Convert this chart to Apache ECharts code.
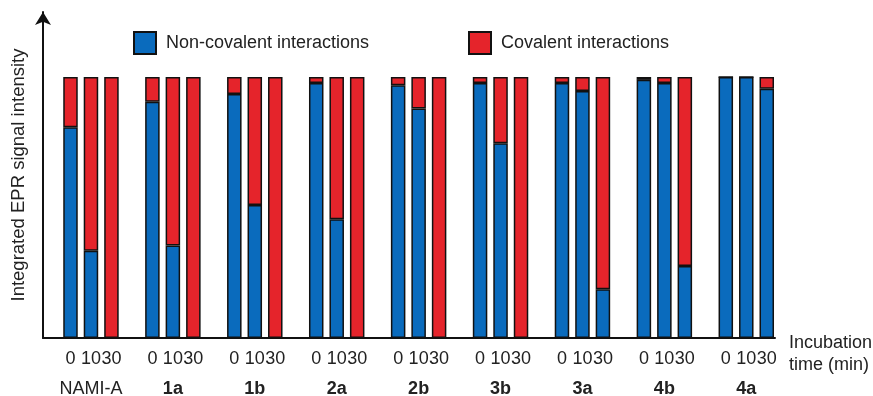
<!DOCTYPE html>
<html>
<head>
<meta charset="utf-8">
<script src="https://cdn.jsdelivr.net/npm/echarts@6/dist/echarts.min.js"></script>
<style>html,body{margin:0;padding:0;background:#fff;}#c{width:873px;height:396px;}</style>
</head>
<body>
<div id="c"></div>
<script>
var groups = ['NAMI-A', '1a', '1b', '2a', '2b', '3b', '3a', '4b', '4a'];
var timeLabels = ['0', '10', '30'];
// Non-covalent share (%) for 0, 10, 30 min per group
var nonCovalent = [
  [80.7, 33.4, 0],
  [90.5, 35.4, 0],
  [93.5, 51.0, 0],
  [97.7, 45.5, 0],
  [96.8, 87.9, 0],
  [97.7, 74.6, 0],
  [97.7, 94.6, 18.7],
  [98.9, 97.7, 27.6],
  [100, 100, 95.5]
];
// Covalent share (%) for 0, 10, 30 min per group
var covalent = [
  [19.3, 66.6, 100],
  [9.5, 64.6, 100],
  [6.5, 49.0, 100],
  [2.3, 54.5, 100],
  [3.2, 12.1, 100],
  [2.3, 25.4, 100],
  [2.3, 5.4, 81.3],
  [1.1, 2.3, 72.4],
  [0, 0, 4.5]
];

// Build slots: 3 bars per group + 1 gap slot between groups
var slots = [], slotTime = [], slotGroup = [], ncData = [], cData = [];
groups.forEach(function (g, gi) {
  for (var t = 0; t < 4; t++) {
    if (gi === groups.length - 1 && t === 3) break;
    slots.push('s' + slots.length);
    if (t < 3) {
      slotTime.push(timeLabels[t]);
      slotGroup.push(t === 1 ? g : '');
      ncData.push(nonCovalent[gi][t]);
      cData.push(covalent[gi][t]);
    } else {
      slotTime.push('');
      slotGroup.push('');
      ncData.push(null);
      cData.push(null);
    }
  }
});

var FONT = '"Liberation Sans", Arial, sans-serif';
var TXT = '#222';
var BLUE = '#0a6bbd';
var RED = '#e5242b';

var chart = echarts.init(document.getElementById('c'));
chart.setOption({
  animation: false,
  textStyle: { fontFamily: FONT },
  grid: [
    { left: 43, right: 98, top: 12, bottom: 58, containLabel: false, outerBoundsMode: 'none' },
    { left: 60.25, right: 96, top: 77, bottom: 58, containLabel: false, outerBoundsMode: 'none' }
  ],
  legend: [
    {
      left: 133, top: 31, padding: 0, itemWidth: 22, itemHeight: 22, icon: 'rect',
      data: ['Non-covalent interactions'],
      textStyle: { fontSize: 18, color: TXT, fontFamily: FONT, padding: [0, 0, 0, 5] }
    },
    {
      left: 468, top: 31, padding: 0, itemWidth: 22, itemHeight: 22, icon: 'rect',
      data: ['Covalent interactions'],
      textStyle: { fontSize: 18, color: TXT, fontFamily: FONT, padding: [0, 0, 0, 5] }
    }
  ],
  xAxis: [
    {
      gridIndex: 0, type: 'value', min: 0, max: 1,
      axisLine: { show: true, lineStyle: { color: '#111', width: 2 } },
      axisTick: { show: false }, axisLabel: { show: false }, splitLine: { show: false },
      name: 'Incubation\ntime (min)', nameLocation: 'end', nameGap: 0,
      nameTextStyle: { fontSize: 18, color: TXT, fontFamily: FONT, align: 'left', verticalAlign: 'top', lineHeight: 22, padding: [-6, 0, 0, 14] }
    },
    {
      gridIndex: 1, type: 'category', data: slots,
      axisLine: { show: false }, axisTick: { show: false }, splitLine: { show: false },
      axisLabel: {
        interval: 0, margin: 12, fontSize: 18, color: TXT, fontFamily: FONT,
        formatter: function (v, i) { return slotTime[i]; }
      }
    },
    {
      gridIndex: 1, type: 'category', data: slots, position: 'bottom', offset: 30,
      axisLine: { show: false }, axisTick: { show: false }, splitLine: { show: false },
      axisLabel: {
        interval: 0, margin: 12, fontSize: 18, color: TXT, fontFamily: FONT,
        formatter: function (v, i) {
          var g = slotGroup[i];
          if (!g) return '';
          return g === 'NAMI-A' ? '{n|' + g + '}' : '{b|' + g + '}';
        },
        rich: {
          n: { fontSize: 18, color: TXT, fontFamily: FONT },
          b: { fontSize: 18, color: TXT, fontFamily: FONT, fontWeight: 'bold' }
        }
      }
    }
  ],
  yAxis: [
    {
      gridIndex: 0, type: 'value', min: 0, max: 1,
      axisLine: { show: true, symbol: ['none', 'arrow'], symbolSize: [12, 13], lineStyle: { color: '#111', width: 2 } },
      axisTick: { show: false }, axisLabel: { show: false }, splitLine: { show: false },
      name: 'Integrated EPR signal intensity', nameLocation: 'middle', nameRotate: 90, nameGap: 15,
      nameTextStyle: { fontSize: 18.5, color: TXT, fontFamily: FONT }
    },
    {
      gridIndex: 1, type: 'value', min: 0, max: 100, show: false
    }
  ],
  series: [
    {
      name: 'Non-covalent interactions', type: 'bar', stack: 'tot',
      xAxisIndex: 1, yAxisIndex: 1, barWidth: 14.5,
      itemStyle: { color: BLUE, borderColor: '#111', borderWidth: 1.5 },
      data: ncData
    },
    {
      name: 'Covalent interactions', type: 'bar', stack: 'tot',
      xAxisIndex: 1, yAxisIndex: 1, barWidth: 14.5,
      itemStyle: { color: RED, borderColor: '#111', borderWidth: 1.5 },
      data: cData
    }
  ]
});
</script>
</body>
</html>
